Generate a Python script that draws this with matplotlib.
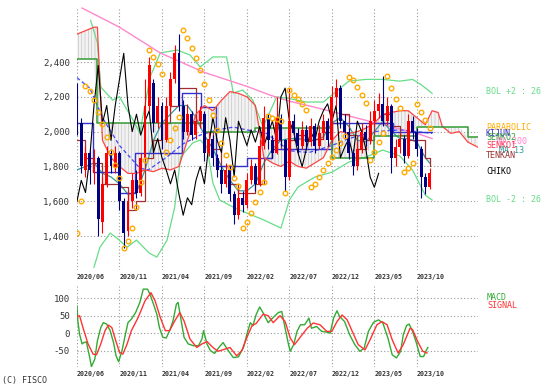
import numpy as np
import matplotlib.pyplot as plt

plt.rcParams['font.family'] = 'DejaVu Sans Mono'
plt.rcParams['hatch.linewidth'] = 0.4

# x axis unit: months since 2020/06
tick_pos = [0, 5, 10, 15, 20, 25, 30, 35, 40]
tick_labels = ['2020/06', '2020/11', '2021/04', '2021/09', '2022/02',
               '2022/07', '2022/12', '2023/05', '2023/10']
price_ticks = [1400, 1600, 1800, 2000, 2200, 2400]
macd_ticks = [-50, 0, 50, 100]

# candles, one every half month
candle_t = np.arange(84) * 0.5
opens = [2250, 2050, 1780, 1880, 1760, 1850, 1480, 1700, 1880, 1790,
         1880, 1600, 1430, 1600, 1720, 1650, 1850, 2150, 2280, 2050,
         2150, 1950, 2150, 2300, 2450, 2150, 2000, 2100, 1980, 2060,
         2100, 1880, 1960, 1850, 1780, 1700, 1780, 1640, 1520, 1620,
         1580, 1720, 1800, 1700, 1920, 2080, 1950, 1880, 2080, 1950,
         1740, 2060, 1990, 1920, 2010, 1940, 2030, 1920, 1990, 2060,
         1950, 2200, 2250, 2060, 2000, 1880, 1800, 1900, 2000, 1950,
         2060, 2120, 2160, 2060, 2150, 1850, 1910, 1960, 1860, 2060,
         2000, 1900, 1740, 1680]
closes = [2050, 1800, 1880, 1780, 1850, 1500, 1700, 1880, 1800, 1880,
          1600, 1420, 1600, 1720, 1650, 1850, 2150, 2380, 2050, 2150,
          1950, 2150, 2300, 2450, 2150, 2000, 2100, 1980, 2060, 2120,
          1880, 1960, 1850, 1780, 1700, 1780, 1640, 1520, 1620, 1580,
          1720, 1800, 1700, 1920, 2080, 1950, 1880, 2080, 1950, 1740,
          2060, 1990, 1920, 2010, 1940, 2030, 1920, 1990, 2060, 1950,
          2200, 2250, 2060, 2000, 1880, 1800, 1900, 2000, 1950, 2060,
          2120, 2160, 2060, 2150, 1850, 1910, 1960, 1860, 2060, 2000,
          1900, 1740, 1680, 1760]
highs = [2280, 2080, 1920, 1900, 1900, 1860, 1740, 1920, 1900, 1920,
         1890, 1620, 1660, 1760, 1780, 1880, 2300, 2430, 2300, 2200,
         2170, 2200, 2340, 2500, 2560, 2180, 2160, 2120, 2100, 2150,
         2120, 2000, 1980, 1870, 1800, 1820, 1800, 1660, 1680, 1660,
         1760, 1840, 1820, 1960, 2150, 2100, 1980, 2200, 2100, 1960,
         2250, 2100, 2020, 2060, 2040, 2080, 2050, 2040, 2100, 2080,
         2260, 2300, 2270, 2100, 2020, 1900, 1940, 2050, 2040, 2120,
         2180, 2220, 2320, 2200, 2160, 1960, 2000, 1980, 2100, 2090,
         2020, 1920, 1760, 1790]
lows = [1980, 1760, 1740, 1700, 1700, 1400, 1420, 1680, 1760, 1760,
        1550, 1330, 1400, 1560, 1620, 1630, 1840, 2120, 2000, 2020,
        1900, 1940, 2120, 2280, 2120, 1960, 1980, 1950, 1960, 2020,
        1830, 1860, 1800, 1740, 1650, 1680, 1600, 1470, 1500, 1540,
        1560, 1700, 1660, 1690, 1900, 1900, 1850, 1870, 1920, 1660,
        1720, 1950, 1880, 1900, 1900, 1920, 1880, 1900, 1960, 1920,
        1940, 2150, 2020, 1960, 1840, 1750, 1780, 1880, 1920, 1930,
        2030, 2080, 2030, 2040, 1760, 1800, 1880, 1820, 1850, 1960,
        1860, 1620, 1640, 1670]

# parabolic SAR, same dates as the candles
sar = [1420, 1600, 2262, 2233, 2181, 2112, 2044, 1969, 1883, 1808,
       1733, 1330, 1371, 1446, 1566, 1710, 1837, 2470, 2429, 2389,
       2331, 1883, 1952, 2020, 2084, 2584, 2538, 2481, 2423, 2354,
       2274, 2181, 2095, 2009, 1934, 1865, 1796, 1733, 1690, 1446,
       1480, 1532, 1595, 1652, 1710, 2090, 2080, 2070, 2060, 1650,
       2239, 2210, 2187, 2158, 2124, 1681, 1701, 1739, 1779, 1819,
       1854, 1894, 1934, 1974, 2314, 2297, 2256, 2210, 2164, 1837,
       1883, 1940, 1990, 2320, 2250, 2187, 2135, 1768, 1790, 1819,
       2158, 2112, 2067, 2021]

# Bollinger bands (26, +-2)
bol_up_t = [1.6, 2.4, 2.8, 4.2, 5.0, 5.9, 6.6, 7.4, 8.6, 9.8, 11.8, 13.3, 14.5,
            16.0, 17.6, 18.4, 19.5, 20.7, 21.9, 23.5, 25.0, 27.0, 29.0, 30.5,
            32.0, 34.0, 36.0, 38.0, 39.5, 40.5, 41.8]
bol_up = [2640, 2510, 2256, 2181, 2200, 2124, 2067, 1992, 2314, 2452, 2469,
          2440, 2371, 2429, 2429, 2222, 2239, 2181, 2026, 2200, 2190, 2170,
          2170, 2230, 2290, 2300, 2300, 2290, 2300, 2270, 2220]
bol_lo_t = [2.0, 2.7, 3.9, 4.7, 5.9, 7.0, 8.5, 9.4, 10.6, 11.5, 12.2, 13.6,
            14.5, 15.3, 16.0, 16.8, 18.4, 20.0, 22.0, 24.0, 25.0, 26.0, 28.0,
            30.0, 32.0, 34.0, 36.0, 38.0, 39.5, 41.0, 41.8]
bol_lo = [1221, 1336, 1417, 1388, 1336, 1377, 1302, 1279, 1377, 1566, 1854,
          1934, 1952, 1911, 1704, 1607, 1566, 1532, 1492, 1446, 1607, 1681,
          1739, 1767, 1825, 1854, 1894, 1860, 1779, 1635, 1607]

# long moving average (pink) and blue dashed average
ma200_t = [0.6, 5, 9.8, 15, 20, 22.7, 25, 28, 32, 36, 40, 41.8]
ma200 = [2710, 2600, 2452, 2340, 2260, 2210, 2175, 2140, 2090, 2040, 1990, 1960]
ma52_t = [0, 1.5, 3, 5, 7.4, 8.4, 10.6, 12.5, 14.5, 16.5, 18.4, 20, 22.3,
          25, 27.3, 30, 32, 35, 38, 40, 41.8]
ma52 = [2310, 2250, 2080, 1920, 1790, 1780, 1855, 1930, 1980, 2010, 2026,
        2010, 1990, 1890, 1880, 1920, 1960, 2000, 2010, 2000, 1990]

# monthly lines
month_t = list(range(42)) + [41.5]
ma13 = [1780, 1800, 1820, 1760, 1740, 1700, 1640, 1650, 1780, 1950,
        2050, 2100, 2150, 2150, 2080, 1980, 1900, 1800, 1720, 1660,
        1660, 1700, 1820, 1900, 1950, 1960, 1960, 1950, 1950, 1970,
        2050, 2080, 2030, 1950, 1940, 2000, 2060, 2000, 1960, 1960,
        1940, 1850, 1820]
tenkan = [1950, 1850, 1820, 1700, 1700, 1680, 1550, 1600, 1850, 1950,
          2050, 2150, 2250, 2250, 2050, 2000, 1900, 1800, 1700, 1650,
          1650, 1700, 1850, 1950, 1900, 1950, 1980, 1950, 1960, 2000,
          2050, 2100, 1980, 1900, 1950, 2050, 2100, 2030, 1980, 1950,
          1950, 1850, 1800]

kijun_t = [0, 1.9, 5.0, 6.8, 12.4, 14.6, 16.4, 20.0, 23.0, 30.0, 37.2, 41.8]
kijun = [2050, 1770, 1650, 1875, 2220, 2140, 1800, 1850, 1900, 2050, 2000, 2000]

# ichimoku cloud (leading spans, shifted 26 weeks ahead)
cloud_t = [0, 1, 2, 2.4] + list(range(3, 42)) + [41.8, 42.5, 43, 44, 45, 46, 47.2]
senko1 = [2560, 2580, 2600, 2600, 1950, 1850, 1800, 1760, 1760, 1780,
          1770, 1790, 1780, 1800, 1950, 2100, 2150, 2120, 2180, 2230,
          2220, 2200, 2150, 1850, 1820, 1800, 1830, 1800, 1790, 1820,
          1850, 1950, 2000, 1990, 2000, 2020, 2050, 2100, 2110, 2120,
          2120, 2080, 2040, 2120, 2110, 2030, 1990, 2000, 1940, 1910]
senko2 = ([2420, 2420, 2420, 2050] + [2050] * 12 + [2000] * 6 + [2020] * 9
          + [1850] * 5 + [1975] * 5 + [2025] * 7 + [1970, 1970])

# MACD (green) and signal (red)
macd_t = [0, 0.1, 0.3, 0.6, 0.8, 1.1, 1.5, 1.7, 2.1, 2.4, 2.8, 3.1, 3.5, 3.9,
          4.3, 4.6, 4.9, 5.3, 5.7, 6.0, 6.4, 6.9, 7.4, 7.8, 8.3, 8.6, 9.0,
          9.4, 9.7, 10.1, 10.5, 10.9, 11.3, 11.7, 11.9, 12.2, 12.6, 13.1,
          13.7, 14.3, 14.7, 14.9, 15.3, 15.7, 16.2, 16.7, 17.2, 17.8, 18.4,
          19.0, 19.6, 20.0, 20.4, 20.7, 21.1, 21.5, 22.0, 22.5, 23.1, 23.7,
          24.1, 24.5, 24.9, 25.1, 25.5, 25.9, 26.3, 26.8, 27.3, 27.6, 28.2,
          28.8, 29.4, 29.8, 30.2, 30.6, 30.9, 31.5, 32.1, 32.7, 33.3, 33.8,
          34.3, 34.9, 35.5, 36.0, 36.6, 37.1, 37.6, 38.1, 38.4, 38.8, 39.1,
          39.5, 39.9, 40.4, 40.8, 41.1, 41.3]
macd = [78, 35, -3, -31, -27, -25, -70, -96, -74, -22, 16, 30, 26, 7,
        -27, -65, -82, -50, -3, 30, 40, 59, 88, 126, 126, 111, 83,
        54, 16, -12, -14, 7, 35, 83, 88, 45, -12, -31,
        -36, -36, -17, 7, -31, -50, -58, -41, -27, -50, -70,
        -68, -41, -3, 30, 21, 54, 75, 54, 30, 45, 59,
        62, 14, -33, -52, -33, 5, 24, 24, 43, 14, 19,
        5, 3, 0, 43, 64, 48, 33, -5, -33, -52, -43,
        5, 31, 38, 29, -14, -62, -71, -52, -5, 22, 26,
        5, -24, -67, -67, -50, -41]
signal_t = [0, 0.3, 0.7, 1.3, 1.9, 2.3, 2.8, 3.3, 3.7, 4.1, 4.5, 5.0, 5.4,
            5.9, 6.4, 7.2, 8.0, 8.7, 9.2, 9.8, 10.4, 10.9, 11.5, 12.1, 12.6,
            13.3, 14.1, 14.7, 15.3, 16.0, 16.6, 17.4, 18.0, 18.8, 19.4, 20.0,
            20.6, 21.1, 21.9, 22.5, 23.1, 23.9, 24.5, 25.1, 25.6, 26.2, 27.1,
            27.8, 28.6, 29.4, 30.0, 30.6, 31.2, 31.8, 32.4, 33.1, 33.9, 34.5,
            35.3, 35.9, 36.5, 37.1, 37.8, 38.4, 39.2, 39.5, 40.1, 40.7, 41.2]
signal = [47, 50, 16, -31, -60, -62, -31, 7, 23, 16, -17, -55, -60,
          -31, 7, 45, 92, 116, 92, 45, 7, 7, 35, 59, 35,
          -17, -41, -31, -24, -41, -52, -46, -41, -65, -50, -12,
          21, 28, 54, 50, 30, 50, 33, -14, -33, -14, 14,
          29, 24, 5, 5, 33, 52, 38, 5, -33, -48, -19,
          24, 33, 24, -19, -57, -33, 14, 10, -24, -52, -57]

W, H = 557, 388
fig = plt.figure(figsize=(W / 100, H / 100), dpi=100)
ax = fig.add_axes([77 / W, 1 - 270 / H, 401 / W, 263 / H])
ax2 = fig.add_axes([77 / W, 1 - 367 / H, 401 / W, 81 / H])

grid_style = dict(color='#999999', linestyle=(0, (1, 2)), linewidth=0.8)
for a in (ax, ax2):
    for s in a.spines.values():
        s.set_visible(False)
    a.set_xlim(0, 47.2)
    a.set_xticks(tick_pos)
    a.set_xticklabels(tick_labels, fontsize=4.8, fontweight='bold',
                      ha='left', color='#333333')
    a.tick_params(length=0, pad=3)
    a.tick_params(axis='y', labelsize=6.5, labelcolor='#333333', pad=5)
    a.grid(True, **grid_style)
    a.set_axisbelow(True)

# --- price panel ---
ax.set_ylim(1205, 2716)
ax.set_yticks(price_ticks)
ax.set_yticklabels([f'{v:,}' for v in price_ticks])

s1 = np.array(senko1)
s2 = np.array(senko2)
ax.fill_between(cloud_t, s1, s2, facecolor='#f2f2f2', edgecolor='#bbbbbb',
                hatch='|||||', linewidth=0, zorder=1)

ax.plot(bol_up_t, bol_up, color='#66dd88', lw=0.9, zorder=2)
ax.plot(bol_lo_t, bol_lo, color='#66dd88', lw=0.9, zorder=2)
ax.plot(ma200_t, ma200, color='#ff88cc', lw=1.0, zorder=2)
ax.plot(ma52_t, ma52, color='#4444ff', lw=0.9, ls=(0, (3, 2)), zorder=2)
ax.plot(month_t, ma13, color='#339999', lw=0.9, zorder=2)
ax.plot(month_t, tenkan, color='#a03030', lw=0.9, drawstyle='steps-post', zorder=2)
ax.plot(kijun_t, kijun, color='#3333cc', lw=1.0, drawstyle='steps-post', zorder=2)
ax.plot(cloud_t, s1, color='#ff4444', lw=0.9, zorder=2)
ax.plot(cloud_t, s2, color='#339933', lw=1.1, drawstyle='steps-post', zorder=2)

# chiko span: closes drawn 26 weeks back
ax.plot(candle_t[12:] - 6, closes[12:], color='black', lw=0.8, zorder=3)

o = np.array(opens)
c = np.array(closes)
up = c >= o
col = np.where(up, '#ff0000', '#000080')
ax.vlines(candle_t, lows, highs, colors=col, lw=0.8, zorder=4)
ax.bar(candle_t, np.abs(c - o), bottom=np.minimum(o, c), width=0.34,
       color=col, linewidth=0, zorder=4)

ax.plot(candle_t, sar, 'o', mfc='none', mec='#ffaa00', ms=3.3, mew=1.0,
        ls='none', zorder=5)

# --- MACD panel ---
ax2.set_ylim(-97, 135)
ax2.set_yticks(macd_ticks)
ax2.set_yticklabels([str(v) for v in macd_ticks])
ax2.plot(macd_t, macd, color='#33aa33', lw=1.0)
ax2.plot(signal_t, signal, color='#ff3333', lw=1.0)

# --- labels on the right ---
def label(x, y, s, color):
    fig.text(x / W, 1 - y / H, s, color=color, fontsize=6, va='center', ha='left')

label(486, 92, 'BOL +2 : 26', '#66dd88')
label(486, 127, 'PARABOLIC', '#ffaa00')
label(486, 133, 'KIJUN', '#3333cc')
label(486, 137, 'SENKO2', '#339933')
label(497, 141, 'MA 200', '#ff88cc')
label(486, 145, 'SENKO1', '#ff3355')
label(499, 151, 'MA 13', '#339999')
label(486, 155, 'TENKAN', '#993333')
label(486, 172, 'CHIKO', 'black')
label(486, 200, 'BOL -2 : 26', '#66dd88')
label(487, 298, 'MACD', '#33aa33')
label(487, 306, 'SIGNAL', '#ff3333')
fig.text(2 / W, 1 - 381 / H, '(C) FISCO', fontsize=6, color='#333333', va='center')

fig.savefig('out.png', dpi=100)
